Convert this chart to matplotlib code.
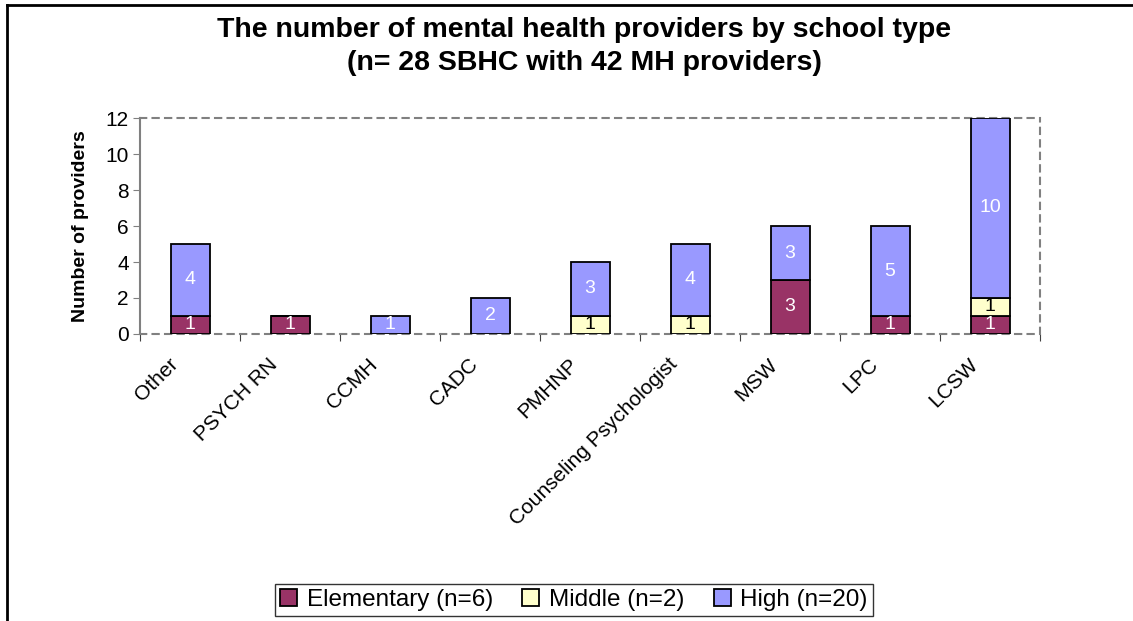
import numpy as np
import matplotlib
matplotlib.use('Agg')
from matplotlib import pyplot as plt
from matplotlib.lines import Line2D
from matplotlib.transforms import ScaledTranslation

plt.rcParams['font.family'] = ['Liberation Sans', 'DejaVu Sans']

# data
categories = ['Other', 'PSYCH RN', 'CCMH', 'CADC', 'PMHNP',
              'Counseling Psychologist', 'MSW', 'LPC', 'LCSW']
elementary = [1, 1, 0, 0, 0, 0, 3, 1, 1]
middle = [0, 0, 0, 0, 1, 1, 0, 0, 1]
high = [4, 0, 1, 2, 3, 4, 3, 5, 10]
series_names = ['Elementary (n=6)', 'Middle (n=2)', 'High (n=20)']
yticks = [0, 2, 4, 6, 8, 10, 12]

colors = ['#993366', '#FFFFCC', '#9999FF']
text_colors = ['white', 'black', 'white']

fig = plt.figure(figsize=(11.33, 6.21), dpi=100)
ax = fig.add_axes([140 / 1133, 1 - 334 / 621, 900 / 1133, 216 / 621])

x = np.arange(len(categories))
bottom = np.zeros(len(categories))
handles = []
for vals, col, tcol, name in zip([elementary, middle, high], colors, text_colors, series_names):
    vals = np.array(vals, dtype=float)
    bars = ax.bar(x, vals, width=0.39, bottom=bottom, color=col,
                  edgecolor='black', linewidth=1.3, label=name, zorder=3)
    for xi, v, b in zip(x, vals, bottom):
        if v > 0:
            ax.text(xi, b + v / 2, '%d' % v, ha='center', va='center',
                    color=tcol, fontsize=14, zorder=4)
    bottom += vals
    handles.append(bars)

ax.set_xlim(-0.5, len(categories) - 0.5)
ax.set_ylim(0, 12)
ax.set_yticks(yticks)
ax.tick_params(axis='y', labelsize=15, length=5, color='#808080', pad=3)
ax.set_xticks(np.arange(len(categories) + 1) - 0.5)
ax.set_xticklabels([])
ax.set_xticks(x, minor=True)
ax.set_xticklabels(categories, minor=True, rotation=45, ha='right',
                   rotation_mode='anchor', fontsize=15)
ax.tick_params(axis='x', which='major', length=5, color='#404040')
ax.tick_params(axis='x', which='minor', length=0, pad=15)
# Excel puts the end of the rotated labels a little left of the category centre
shift = ScaledTranslation(-22 / 100, 0, fig.dpi_scale_trans)
for lbl in ax.get_xticklabels(minor=True):
    lbl.set_transform(lbl.get_transform() + shift)

for side in ['top', 'right', 'bottom']:
    ax.spines[side].set_linestyle((0, (3, 3)))
    ax.spines[side].set_color('#808080')
    ax.spines[side].set_linewidth(1.5)
ax.spines['left'].set_color('#808080')
ax.spines['left'].set_linewidth(1.5)

ax.set_ylabel('Number of providers', fontsize=14, fontweight='bold', labelpad=12)

fig.text(584 / 1133, 1 - 30 / 621, 'The number of mental health providers by school type',
         ha='center', va='center', fontsize=20.5, fontweight='bold')
fig.text(584 / 1133, 1 - 63 / 621, '(n= 28 SBHC with 42 MH providers)',
         ha='center', va='center', fontsize=20.5, fontweight='bold')

leg = fig.legend(handles=handles, loc='center', bbox_to_anchor=(574 / 1133, 1 - 600 / 621),
                 ncol=3, fontsize=17.5, frameon=True, fancybox=False,
                 edgecolor='black', handlelength=0.7, handleheight=0.7,
                 handletextpad=0.4, columnspacing=1.2, borderpad=0.2,
                 borderaxespad=0)
leg.get_frame().set_linewidth(1.0)

# outer chart frame (left and top edges)
fig.add_artist(Line2D([7 / 1133, 7 / 1133], [0, 1 - 5 / 621], color='black', lw=2,
                      transform=fig.transFigure))
fig.add_artist(Line2D([7 / 1133, 1], [1 - 5 / 621, 1 - 5 / 621], color='black', lw=2,
                      transform=fig.transFigure))

fig.savefig('out.png', dpi=100)
